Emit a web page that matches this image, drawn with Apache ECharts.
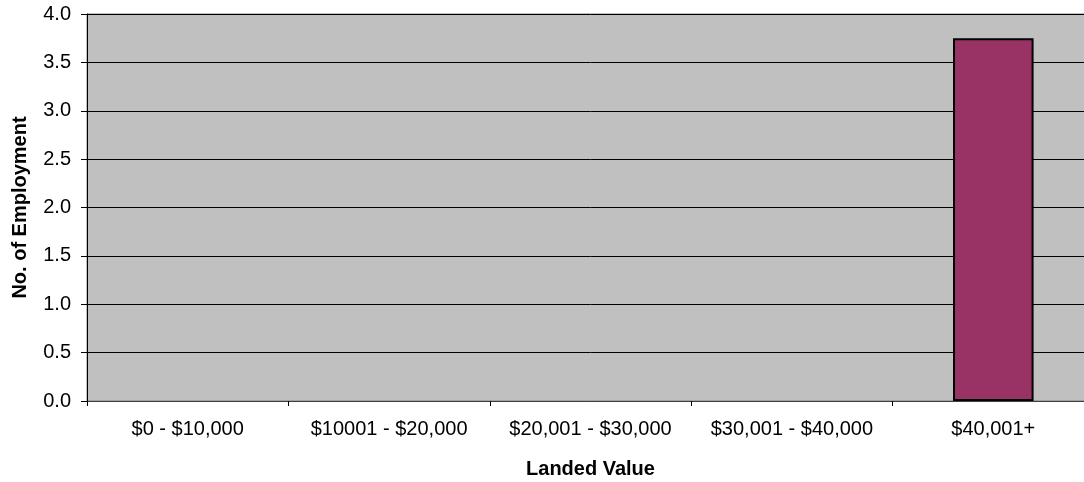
<!DOCTYPE html>
<html><head><meta charset="utf-8">
<script src="https://cdn.jsdelivr.net/npm/echarts@6/dist/echarts.min.js"></script>
<style>html,body{margin:0;padding:0;background:#fff;overflow:hidden}#wrap{position:relative;width:1084px;height:482px;overflow:hidden}#c{position:absolute;left:0;top:0;width:1094px;height:482px}</style>
</head><body><div id="wrap"><div id="c"></div></div>
<script>
const categories = ['$0 - $10,000', '$10001 - $20,000', '$20,001 - $30,000', '$30,001 - $40,000', '$40,001+'];
const values = [0, 0, 0, 0, 3.75];
const yTicks = {min: 0, max: 4, interval: 0.5};

const FONT = 'Liberation Sans, Arial, sans-serif';
const chart = echarts.init(document.getElementById('c'), null, {renderer: 'canvas', width: 1094, height: 482});
chart.setOption({
  animation: false,
  grid: {left: 87, right: 0, top: 14, bottom: 81, containLabel: false, outerBoundsMode: 'none',
         show: true, backgroundColor: '#C0C0C0', borderColor: '#808080', borderWidth: 1},
  xAxis: {
    type: 'category', data: categories,
    name: 'Landed Value', nameLocation: 'middle', nameGap: 58,
    nameTextStyle: {fontFamily: FONT, fontWeight: 'bold', fontSize: 20, color: '#000'},
    axisLine: {lineStyle: {color: '#404040', width: 1}},
    axisTick: {show: true, alignWithLabel: false, length: 5, lineStyle: {color: '#000'}},
    axisLabel: {fontFamily: FONT, fontSize: 20, color: '#000', margin: 18, interval: 0}
  },
  yAxis: {
    type: 'value', min: yTicks.min, max: yTicks.max, interval: yTicks.interval,
    name: 'No. of Employment', nameLocation: 'middle', nameGap: 57, nameRotate: 90,
    nameTextStyle: {fontFamily: FONT, fontWeight: 'bold', fontSize: 20, color: '#000'},
    axisLine: {show: true, lineStyle: {color: '#000', width: 1}},
    axisTick: {show: true, length: 6, lineStyle: {color: '#000'}},
    axisLabel: {fontFamily: FONT, fontSize: 20, color: '#000', margin: 16, formatter: v => v.toFixed(1)},
    splitLine: {show: true, lineStyle: {color: '#000', width: 1}}
  },
  series: [{
    type: 'bar', barWidth: '40%',
    data: values.map(v => v === 0 ? {value: v, itemStyle: {borderWidth: 0}} : v),
    itemStyle: {color: '#993366', borderColor: '#000', borderWidth: 2}
  }]
});
</script></body></html>
